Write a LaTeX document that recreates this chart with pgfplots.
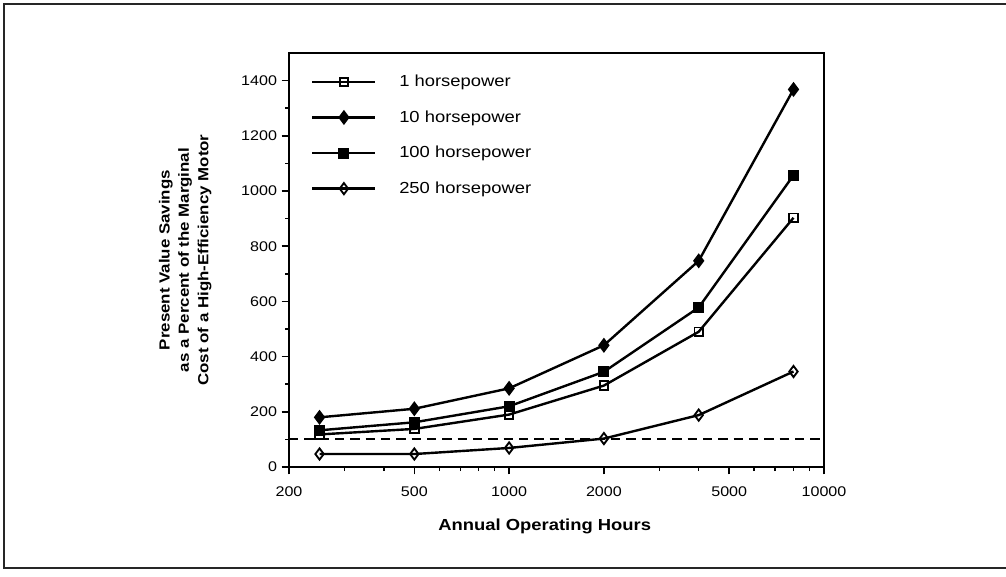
\documentclass[border=0pt]{standalone}
\usepackage{fontspec}
\setmainfont{Liberation Sans}[FakeStretch=1.15]
\usepackage{pgfplots}
\pgfplotsset{compat=1.18}

\begin{document}
\begin{tikzpicture}
\path[use as bounding box] (0pt,0pt) rectangle (754.5pt,432pt);
\draw[line width=1.6pt, black!85] (754.5pt,429pt) -- (3pt,429pt) -- (3pt,6pt) -- (754.5pt,6pt);
\begin{axis}[
  at={(216.75pt,81.75pt)}, anchor=south west,
  scale only axis, width=401.25pt, height=310.5pt,
  xmode=log, xmin=200, xmax=10000, ymin=0, ymax=1500,
  xtick={200,500,1000,2000,5000,10000},
  xticklabels={200,500,1000,2000,5000,10000},
  minor xtick={300,400,600,700,800,900,3000,4000,6000,7000,8000,9000},
  ytick={0,200,400,600,800,1000,1200,1400},
  minor ytick={100,300,500,700,900,1100,1300},
  yticklabel style={/pgf/number format/1000 sep={}},
  tick pos=left, tick align=outside,
  major tick length=5.5pt, minor tick length=3pt,
  axis line style={line width=1.5pt},
  every tick/.style={line width=1.1pt, black},
  /pgf/number format/assume math mode=true,
  ticklabel style={font=\fontsize{10.5}{12}\selectfont},
  xticklabel style={yshift=-6pt},
  xlabel={\textbf{Annual Operating Hours}},
  xlabel style={font=\fontsize{12}{14}\selectfont, at={(axis description cs:0.478,-0.1425)}, anchor=center},
  ylabel={Present Value Savings\\as a Percent of the Marginal\\Cost of a High-Efficiency Motor},
  ylabel style={align=center, font=\bfseries\fontsize{11}{14.6}\selectfont, at={(axis description cs:-0.194,0.5)}, anchor=center},
  legend style={at={(axis description cs:0.0336,0.957)}, anchor=north west, draw=none, fill=none,
    font=\fontsize{12}{14}\selectfont, row sep=14.5pt, nodes={inner sep=1pt},
    /tikz/every odd column/.append style={column sep=16pt}},
  legend cell align=left,
  legend image code/.code={\draw[mark repeat=2,mark phase=2,#1] plot coordinates {(0pt,0pt) (23.6pt,0pt) (47.2pt,0pt)};},
  every axis plot/.append style={line width=1.8pt, black},
]
\addplot[mark=square, mark size=3.2pt, mark options={fill=white, line width=1.4pt, solid}]
  coordinates {(250,118) (500,138) (1000,190) (2000,295) (4000,490) (8000,903)};
\addlegendentry{1 horsepower}
\addplot[mark=diamond*, mark size=4.2pt, mark options={solid}]
  coordinates {(250,180) (500,211) (1000,285) (2000,441) (4000,747) (8000,1368)};
\addlegendentry{10 horsepower}
\addplot[mark=square*, mark size=3.2pt, mark options={solid}]
  coordinates {(250,133) (500,162) (1000,220) (2000,345) (4000,578) (8000,1057)};
\addlegendentry{100 horsepower}
\addplot[mark=diamond, mark size=4.2pt, mark options={fill=white, line width=1.4pt, solid}]
  coordinates {(250,47) (500,47) (1000,69) (2000,103) (4000,188) (8000,346)};
\addlegendentry{250 horsepower}
\addplot[line width=1.5pt, dash pattern=on 7pt off 4.5pt, forget plot]
  coordinates {(200,100) (10000,100)};
\end{axis}
\end{tikzpicture}
\end{document}
